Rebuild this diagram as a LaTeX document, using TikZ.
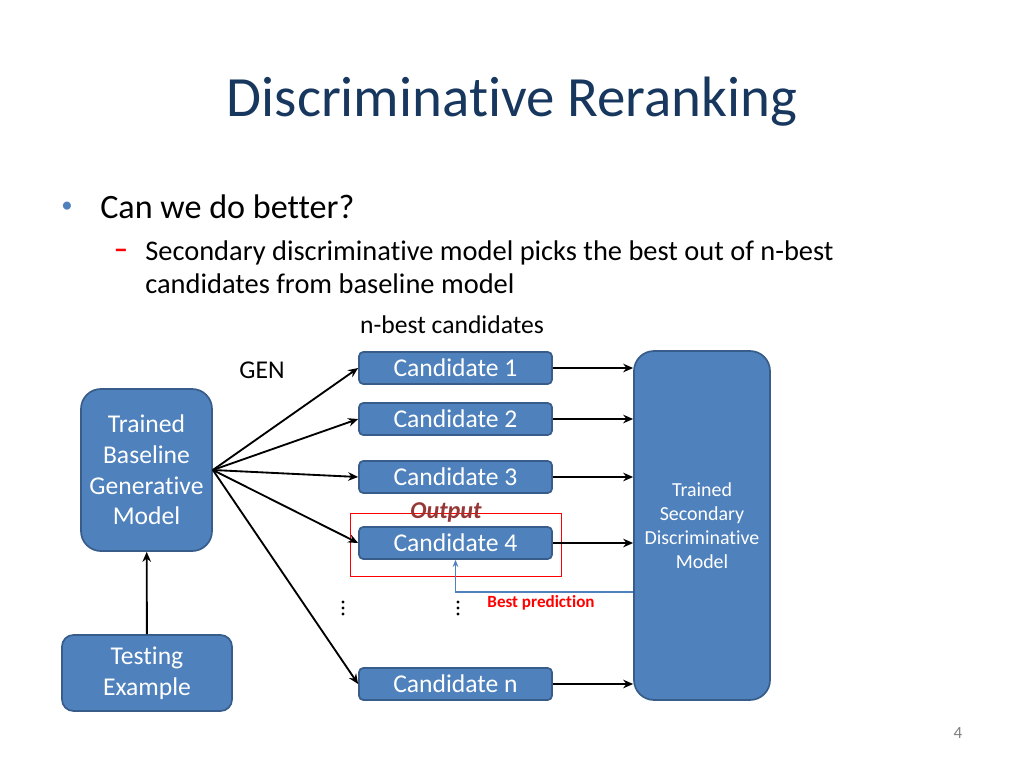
\documentclass[tikz,border=0pt]{standalone}
\usepackage{fontspec}
\setmainfont[Ligatures=NoCommon]{Carlito}
\usetikzlibrary{arrows.meta}
\definecolor{boxfill}{HTML}{4F81BD}
\definecolor{boxline}{HTML}{385D8A}
\definecolor{titleblue}{HTML}{17375E}
\definecolor{outred}{HTML}{953735}
\begin{document}
\begin{tikzpicture}[x=0.703pt,y=-0.703pt,
    box/.style={draw=boxline, fill=boxfill, line width=1.2pt, text=white, align=center, inner sep=0pt},
    cand/.style={box, rounded corners=3pt, minimum width=135.7pt, minimum height=22.5pt, font=\fontsize{18}{21}\selectfont},
    >={Stealth[length=7pt,width=6pt]}]
    \useasboundingbox (0,0) rectangle (1024,768);
    \node [titleblue, font=\fontsize{40}{46}\selectfont] (title) at (512,102) {Discriminative Reranking};
    \node [boxfill, font=\fontsize{16}{20}\selectfont] at (67,207) {•};
    \node [right, inner sep=0pt, font=\fontsize{24}{28}\selectfont] at (100,207) {Can we do better?};
    \node [red, font=\fontsize{20}{24}\selectfont\bfseries] at (121,254) {–};
    \node [right, inner sep=0pt, align=left, font=\fontsize{20}{23.2}\selectfont] at (145,267)
     {Secondary discriminative model picks the best out of n-best\\candidates from baseline model};
    \node [font=\fontsize{18}{21}\selectfont] (nbest) at (452,325) {n-best candidates};
    \node [font=\fontsize{18}{21}\selectfont] (gen) at (262,370) {GEN};
    % boxes
    \node [box, rounded corners=14pt, minimum width=92.1pt, minimum height=113.9pt,
     font=\fontsize{18}{21.5}\selectfont] (base) at (146.5,470) {Trained\\Baseline\\Generative\\Model};
    \node [box, rounded corners=8pt, minimum width=119.5pt, minimum height=53.4pt,
     font=\fontsize{18}{21.5}\selectfont] (test) at (147,673) {Testing\\Example};
    \node [box, rounded corners=14pt, minimum width=95.6pt, minimum height=245.3pt,
     font=\fontsize{14}{17}\selectfont] (disc) at (702,525.5) {Trained\\Secondary\\Discriminative\\Model};
    \node [cand] (c1) at (455.5,368) {Candidate 1};
    \node [cand] (c2) at (455.5,419) {Candidate 2};
    \node [cand] (c3) at (455.5,477) {Candidate 3};
    \node [cand] (c4) at (455.5,543) {Candidate 4};
    \node [cand] (cn) at (455.5,684) {Candidate n};
    % vertical dots
    \foreach \x in {343,458}
      \foreach \y in {602,608,614}
        \fill (\x,\y) circle (1.1pt);
    % output frame
    \draw [red, line width=0.7pt] (350,513) rectangle (561,576);
    \node [outred, font=\fontsize{17}{19}\selectfont\bfseries\itshape] (out) at (446,512) {Output};
    % arrows
    \draw [->, line width=1.3pt] (test) -- (base);
    \foreach \c in {c1,c2,c3,c4,cn} {
      \draw [->, line width=1.3pt] (base.east) -- (\c.west);
      \draw [->, line width=1.3pt] (\c.east) -- (\c.east -| disc.west);
    }
    \coordinate (bp) at (disc.west |- 0,592);
    \draw [->, boxfill, line width=0.8pt, >={Stealth[length=5pt,width=4pt]}] (bp) -| (c4.south);
    \node [red, font=\fontsize{12}{14}\selectfont\bfseries] (best) at (541,603) {Best prediction};
    \node [gray, font=\fontsize{12}{14}\selectfont] at (958,733) {4};
\end{tikzpicture}
\end{document}
